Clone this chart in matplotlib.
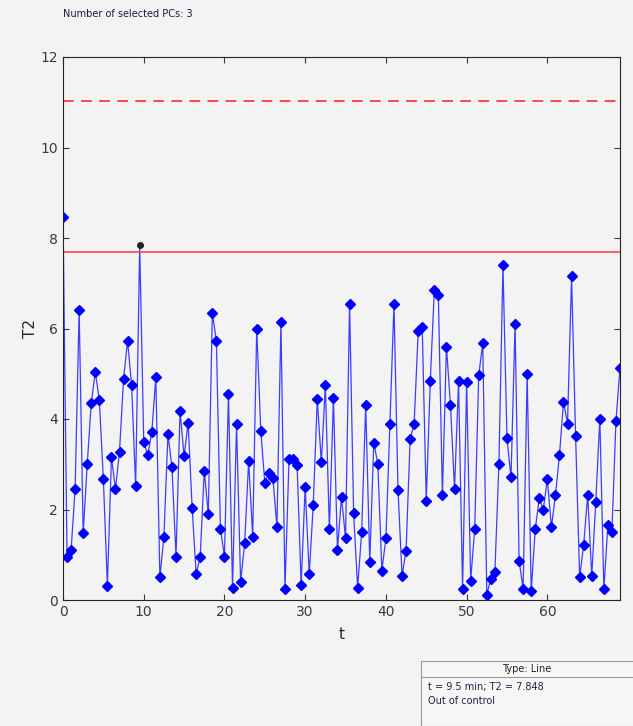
import numpy as np
import matplotlib
matplotlib.use("Agg")
import matplotlib.pyplot as plt
from matplotlib.patches import Rectangle
from matplotlib.lines import Line2D

# T2 statistic sampled every 0.5 min
t = np.arange(0, 69.5, 0.5)
t2 = [8.47, 0.96, 1.10, 2.45, 6.41, 1.47, 3.00, 4.35, 5.04, 4.42,
      2.67, 0.31, 3.15, 2.45, 3.28, 4.88, 5.73, 4.75, 2.52, 7.848,
      3.50, 3.20, 3.71, 4.92, 0.50, 1.40, 3.66, 2.93, 0.96, 4.18,
      3.18, 3.92, 2.03, 0.57, 0.96, 2.86, 1.90, 6.34, 5.73, 1.58,
      0.96, 4.56, 0.27, 3.89, 0.40, 1.25, 3.07, 1.39, 6.00, 3.74,
      2.59, 2.81, 2.69, 1.62, 6.15, 0.25, 3.12, 3.12, 2.98, 0.33,
      2.50, 0.57, 2.10, 4.44, 3.04, 4.75, 1.56, 4.46, 1.10, 2.28,
      1.36, 6.55, 1.93, 0.27, 1.51, 4.31, 0.84, 3.48, 3.00, 0.65,
      1.36, 3.90, 6.55, 2.43, 0.54, 1.09, 3.55, 3.90, 5.94, 6.03,
      2.19, 4.85, 6.85, 6.73, 2.32, 5.60, 4.31, 2.45, 4.83, 0.25,
      4.82, 0.43, 1.56, 4.97, 5.67, 0.12, 0.47, 0.62, 3.00, 7.40,
      3.57, 2.71, 6.10, 0.87, 0.24, 4.99, 0.19, 1.56, 2.25, 2.00,
      2.67, 1.61, 2.31, 3.20, 4.38, 3.90, 7.15, 3.62, 0.50, 1.22,
      2.32, 0.54, 2.17, 4.01, 0.24, 1.66, 1.51, 3.96, 5.13]

limit_95 = 7.69
limit_99 = 11.03
tip_t, tip_val = 9.5, 7.848

bg = '#f3f3f3'
fig = plt.figure(figsize=(6.33, 7.26), dpi=100, facecolor=bg)
ax = fig.add_axes([63/633, 1-600/726, (620-63)/633, (600-57)/726])
ax.set_facecolor(bg)

tip_idx = int(np.argmin(np.abs(t - tip_t)))
keep = [i for i in range(len(t)) if i != tip_idx]
ax.plot(t, t2, color='blue', lw=0.9, alpha=0.75)
ax.plot(t, t2, 'D', color='blue', ms=4.6, mec='blue', markevery=keep)
ax.axhline(limit_95, color='#ff3b3b', lw=1.1)
ax.axhline(limit_99, color='#ff3b3b', lw=1.3, ls=(0, (6, 4)))
ax.plot([tip_t], [tip_val], 'o', color='#222222', ms=4, zorder=5)

ax.set_xlim(0, 69)
ax.set_ylim(0, 12)
ax.set_xticks([0, 10, 20, 30, 40, 50, 60])
ax.set_yticks([0, 2, 4, 6, 8, 10, 12])
ax.tick_params(direction='in', top=True, right=True, labelsize=10,
               colors='#3a3a3a', length=4)
for s in ax.spines.values():
    s.set_color('#262626')
    s.set_linewidth(0.8)
ax.set_xlabel('t', fontsize=11, color='#262626', labelpad=6)
ax.set_ylabel('T2', fontsize=11, color='#262626', labelpad=2)

fig.text(63/633, 1-14/726, 'Number of selected PCs: 3', fontsize=7,
         color='#1a1a40', va='center')

# data tip panel
px, py = 1/633, 1/726
fig.patches.append(Rectangle((421*px, 0), 230*px, (726-661)*py, transform=fig.transFigure,
                             facecolor='#f7f7f7', edgecolor='#9a9a9a', lw=0.8))
fig.lines.append(Line2D([421*px, 1], [1-677*py, 1-677*py], transform=fig.transFigure,
                        color='#9a9a9a', lw=0.8))
fig.text(527*px, 1-669*py, 'Type: Line', fontsize=7, ha='center', va='center', color='#222222')
fig.text(428*px, 1-687*py, 't = 9.5 min; T2 = 7.848', fontsize=7, va='center', color='#222244')
fig.text(428*px, 1-701*py, 'Out of control', fontsize=7, va='center', color='#222244')

fig.savefig('out.png', dpi=100, facecolor=bg)
